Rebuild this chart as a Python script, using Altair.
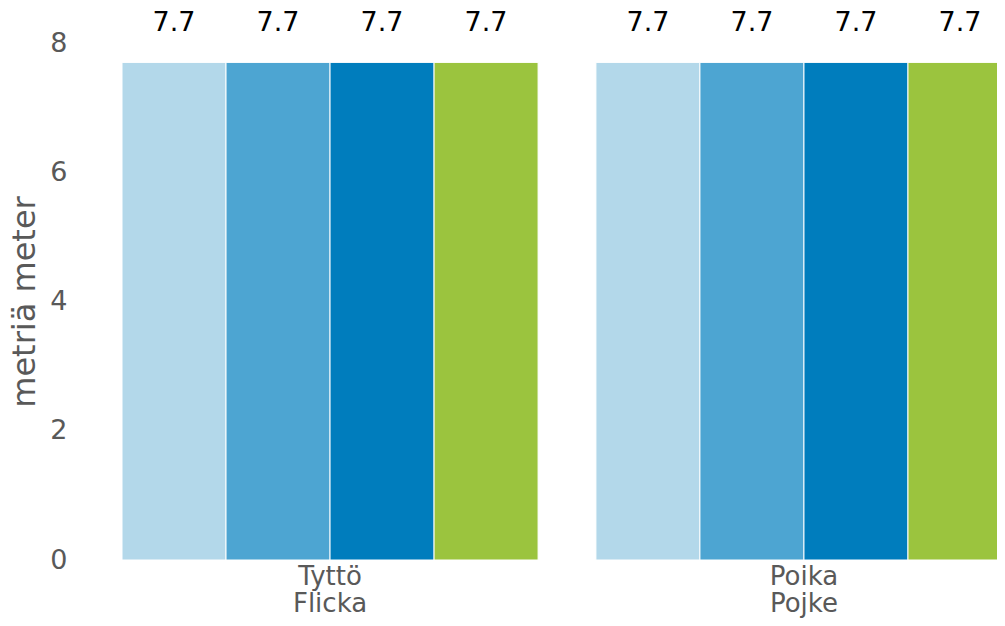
import altair as alt
import pandas as pd

groups = ["Tyttö|Flicka", "Poika|Pojke"]
series = ["Sarja 1", "Sarja 2", "Sarja 3", "Sarja 4"]
values_tytto = [7.7, 7.7, 7.7, 7.7]
values_poika = [7.7, 7.7, 7.7, 7.7]
colors = ["#b3d8ea", "#4da5d2", "#007dbd", "#9bc43e"]
y_ticks = [0, 2, 4, 6, 8]

rows = []
for g, vals in zip(groups, [values_tytto, values_poika]):
    for s, v in zip(series, vals):
        rows.append({"group": g, "series": s, "value": v})
df = pd.DataFrame(rows)

FONT = "DejaVu Sans"
GREY = "#595959"

x = alt.X(
    "group:N", sort=groups, title=None,
    scale=alt.Scale(paddingInner=0.122, paddingOuter=0, range=[0, 890]),
    axis=alt.Axis(labelExpr="split(datum.label, '|')", labelAngle=0, labelFontSize=26,
                  labelColor=GREY, domain=False, ticks=False, labelPadding=3,
                  labelLineHeight=27, labelFont=FONT, labelBaseline="top"),
)
xo = alt.XOffset("series:N", sort=series, scale=alt.Scale(paddingInner=0, paddingOuter=0))

bars = alt.Chart(df).mark_bar(stroke="white", strokeWidth=1).encode(
    x=x,
    xOffset=xo,
    y=alt.Y("value:Q", title="metriä meter", scale=alt.Scale(domain=[0, 8]),
            axis=alt.Axis(values=y_ticks, grid=False, domain=False, ticks=False,
                          labelFontSize=27, labelColor=GREY, labelFont=FONT, labelPadding=55,
                          titleFontSize=32, titleColor=GREY, titleFont=FONT,
                          titleFontWeight="normal", titlePadding=8)),
    color=alt.Color("series:N", sort=series, scale=alt.Scale(domain=series, range=colors), legend=None),
)

labels = alt.Chart(df).mark_text(fontSize=27, color="black", font=FONT, baseline="middle").encode(
    x=x,
    xOffset=xo,
    y=alt.value(-20),
    text=alt.Text("value:Q", format=".1f"),
)

chart = alt.layer(bars, labels).properties(
    width=875, height=517,
    autosize=alt.AutoSizeParams(type="none"),
    padding={"left": 114, "top": 35, "right": 0, "bottom": 58},
).configure_view(stroke=None)

chart.save("out.html", embed_options={"renderer": "svg", "actions": False})
